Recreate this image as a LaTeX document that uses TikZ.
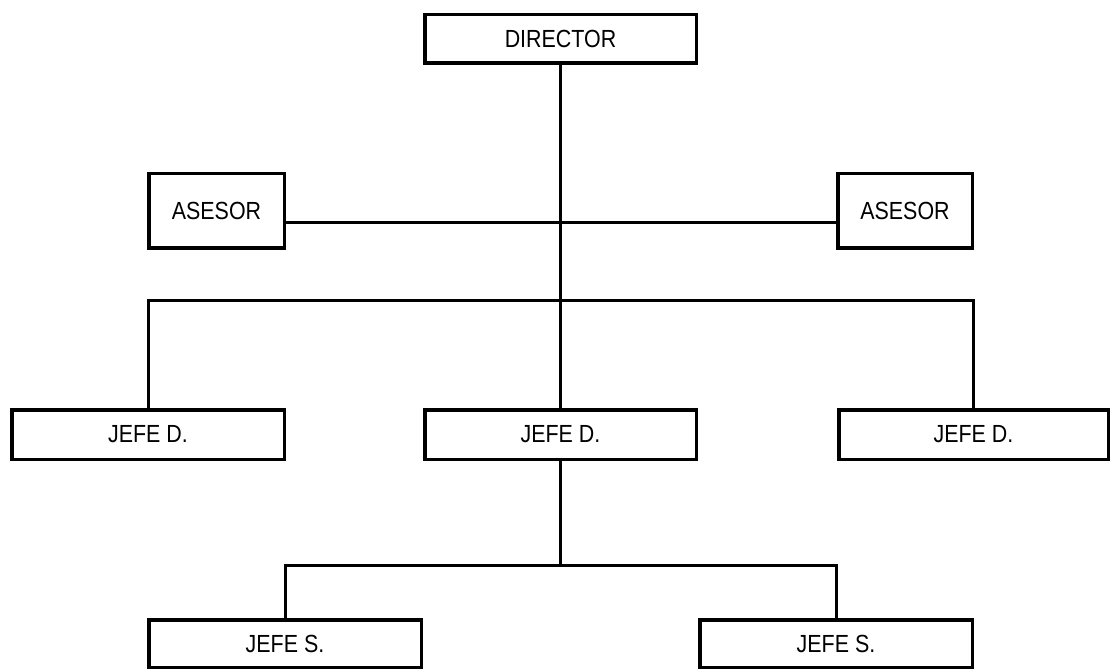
\documentclass[tikz,border=0pt]{standalone}
\usepackage{fontspec}
\usepackage{graphicx}
\setmainfont{Liberation Sans}
\newcommand\boxtext[1]{\scalebox{1.02}[1.18]{#1}}
\begin{document}
\begin{tikzpicture}[x=1pt,y=-1pt,
  box/.style={draw, line width=3.5pt, inner sep=0pt, font=\fontsize{21}{25}\selectfont},
  link/.style={line width=3pt}]
\useasboundingbox (0,0) rectangle (1112,671);
\node[box, minimum width=271.5pt, minimum height=48.5pt] (dir) at (560.5,39) {\boxtext{DIRECTOR}};
\node[box, minimum width=135.5pt, minimum height=74.5pt] (al) at (216.5,211) {\boxtext{ASESOR}};
\node[box, minimum width=134.5pt, minimum height=74.5pt] (ar) at (905,211) {\boxtext{ASESOR}};
\node[box, minimum width=272.5pt, minimum height=49.5pt] (jl) at (148,434.5) {\boxtext{JEFE D.}};
\node[box, minimum width=271.5pt, minimum height=49.5pt] (jm) at (560.5,434.5) {\boxtext{JEFE D.}};
\node[box, minimum width=269.5pt, minimum height=49.5pt] (jr) at (973.5,434.5) {\boxtext{JEFE D.}};
\node[box, minimum width=272.5pt, minimum height=47.5pt] (sl) at (285,643.5) {\boxtext{JEFE S.}};
\node[box, minimum width=272.5pt, minimum height=47.5pt] (sr) at (836,643.5) {\boxtext{JEFE S.}};
\coordinate (as) at (560.5,223);
\coordinate (b1) at (560.5,301);
\coordinate (b2) at (560.5,565);
\draw[link] (dir.south) -- (jm.north);
\draw[link] (al.east |- as) -- (ar.west |- as);
\draw[link] (jl.north) -- (jl.north |- b1) -- (jr.north |- b1) -- (jr.north);
\draw[link] (jm.south) -- (b2);
\draw[link] (sl.north) -- (sl.north |- b2) -- (sr.north |- b2) -- (sr.north);
\end{tikzpicture}
\end{document}
